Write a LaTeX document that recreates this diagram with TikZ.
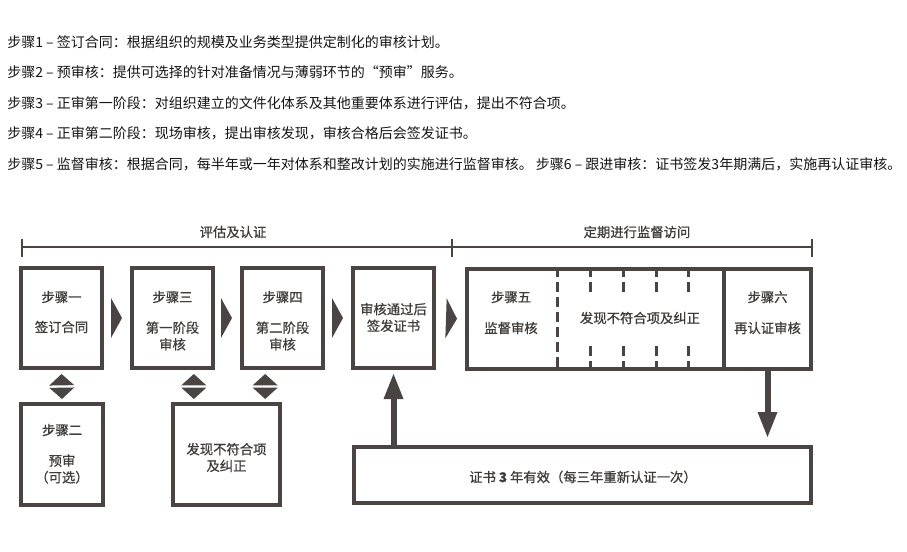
\documentclass[tikz,border=0pt]{standalone}
\usepackage{fontspec}
\setmainfont{Noto Sans CJK SC}
\newfontfamily\boxfont[FakeBold=0.8]{Noto Sans CJK SC}
\usetikzlibrary{arrows.meta,calc}

\definecolor{boxgray}{RGB}{74,69,66}
\definecolor{txtgray}{RGB}{62,59,57}
\definecolor{notegray}{RGB}{20,20,20}

\tikzset{
  stepbox/.style={draw=boxgray, line width=3pt, minimum width=60.75pt, minimum height=75pt, inner sep=0pt},
  steptxt/.style={text=txtgray, font=\boxfont\fontsize{10pt}{12.5pt}\selectfont, align=center, inner sep=0pt},
  notetxt/.style={text=notegray, font=\fontsize{10.5pt}{13pt}\selectfont, anchor=west, inner sep=0pt},
  nexttip/.style={boxgray, line width=0.4pt, shorten <=5.25pt, shorten >=6pt, -{Triangle[length=8.25pt, width=30pt, line width=0pt]}},
  swaptip/.style={white, line width=1pt, shorten <=3pt, shorten >=2.25pt,
    {Triangle[color=boxgray, length=8.5pt, width=18.75pt, line width=0pt]}-{Triangle[color=boxgray, length=8.5pt, width=18.75pt, line width=0pt]}},
  bigarrow/.style={boxgray, line width=4.5pt, -{Triangle[length=18.75pt, width=15pt, line width=0pt]}},
  spanline/.style={boxgray, line width=1.1pt},
  divdash/.style={boxgray, line width=2.25pt, dash pattern=on 7.5pt off 3.75pt, dash phase=3pt}
}

\begin{document}
\begin{tikzpicture}[x=0.75pt, y=-0.75pt]
\useasboundingbox (0,0) rectangle (907,551);

% notes above the chart
\node[notetxt] (n1) at (7,42) {步骤1 – 签订合同：根据组织的规模及业务类型提供定制化的审核计划。};
\node[notetxt] (n2) at (7,72) {步骤2 – 预审核：提供可选择的针对准备情况与薄弱环节的“预审”服务。};
\node[notetxt] (n3) at (7,103) {步骤3 – 正审第一阶段：对组织建立的文件化体系及其他重要体系进行评估，提出不符合项。};
\node[notetxt] (n4) at (7,133) {步骤4 – 正审第二阶段：现场审核，提出审核发现，审核合格后会签发证书。};
\node[notetxt] (n5) at (7,164) {步骤5 – 监督审核：根据合同，每半年或一年对体系和整改计划的实施进行监督审核。 步骤6 – 跟进审核：证书签发3年期满后，实施再认证审核。};

% phase spans
\draw[spanline] (22,247) -- (812,247);
\foreach \x in {22,452,812}
  \draw[spanline] (\x,239) -- (\x,257);
\node[steptxt] (ph1) at (233,232) {评估及认证};
\node[steptxt] (ph2) at (637,232) {定期进行监督访问};

% top row
\node[stepbox] (s1) at (61.5,318) {};
\node[steptxt] (s1a) at (61.5,297) {步骤一};
\node[steptxt] (s1b) at (61.5,327) {签订合同};

\node[stepbox] (s3) at (172.5,318) {};
\node[steptxt] (s3a) at (172.5,297) {步骤三};
\node[steptxt] (s3b) at (172.5,336) {第一阶段\\审核};

\node[stepbox] (s4) at (282.5,318) {};
\node[steptxt] (s4a) at (282.5,297) {步骤四};
\node[steptxt] (s4b) at (282.5,336) {第二阶段\\审核};

\node[stepbox] (iss) at (393.5,318) {};
\node[steptxt] (issa) at (393.5,317.5) {审核通过后\\签发证书};

\node[stepbox, minimum width=258pt] (sv) at (639,319) {};
\node[stepbox, minimum width=65.25pt] (s6) at (767.5,319) {};
\node[steptxt] (s5a) at (511,297) {步骤五};
\node[steptxt] (s5b) at (511,328) {监督审核};
\node[steptxt] (nc2) at (640,318) {发现不符合项及纠正};
\node[steptxt] (s6a) at (767.5,297) {步骤六};
\node[steptxt] (s6b) at (767.5,328) {再认证审核};

\draw[divdash] (557,271) -- (557,367);
\foreach \x in {590,623,656,688} {
  \draw[divdash] (\x,271) -- (\x,293);
  \draw[divdash] (\x,367) -- (\x,345);
}

% bottom row
\node[stepbox, minimum width=61.5pt, minimum height=75.75pt] (s2) at (62,454.5) {};
\node[steptxt] (s2a) at (62,430) {步骤二};
\node[steptxt] (s2b) at (62,469) {预审\\（可选）};

\node[stepbox, minimum width=80.25pt, minimum height=75.75pt] (nc1) at (226.5,454.5) {};
\node[steptxt] (nc1t) at (226.5,457.5) {发现不符合项\\及纠正};

\node[stepbox, minimum width=342.75pt, minimum height=42pt] (cert) at (582.5,475) {};
\node[steptxt] (certt) at (583,477) {证书 \textbf{3} 年有效（每三年重新认证一次）};

% flow
\draw[nexttip] (s1.east) -- (s3.west);
\draw[nexttip] (s3.east) -- (s4.west);
\draw[nexttip] (s4.east) -- (iss.west);
\draw[nexttip, shorten <=7.5pt] (iss.east) -- (sv.west);

\draw[swaptip] (s1.south) -- (s2.north);
\draw[swaptip] ([xshift=16pt]s3.south) -- ([xshift=16pt]s3.south |- nc1.north);
\draw[swaptip] ([xshift=-13pt]s4.south) -- ([xshift=-13pt]s4.south |- nc1.north);

\draw[bigarrow, shorten >=3pt] (cert.north -| iss.south) -- (iss.south);
\draw[bigarrow, shorten >=6pt] (s6.south) -- (s6.south |- cert.north);
\end{tikzpicture}
\end{document}
